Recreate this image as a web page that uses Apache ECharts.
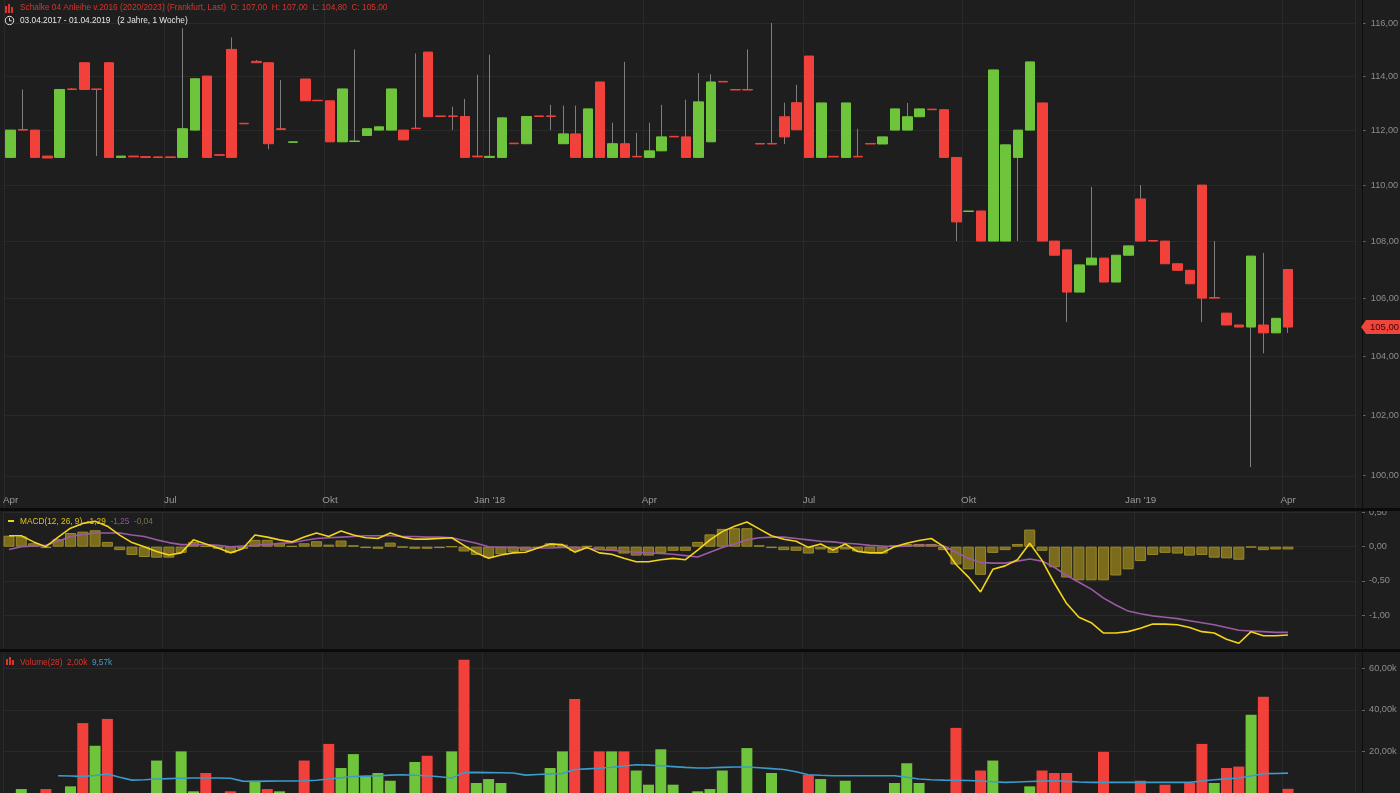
<!DOCTYPE html>
<html><head><meta charset="utf-8">
<script src="https://cdn.jsdelivr.net/npm/echarts@6/dist/echarts.min.js"></script>
<style>html,body{margin:0;padding:0;background:#1e1e1e;}#c{width:1400px;height:793px;}</style>
</head><body><div id="c"></div>
<script>
// ---------- DATA ----------
const dates = [
 '03.04.2017','10.04.2017','17.04.2017','24.04.2017','01.05.2017','08.05.2017','15.05.2017','22.05.2017','29.05.2017','05.06.2017',
 '12.06.2017','19.06.2017','26.06.2017','03.07.2017','10.07.2017','17.07.2017','24.07.2017','31.07.2017','07.08.2017','14.08.2017',
 '21.08.2017','28.08.2017','04.09.2017','11.09.2017','18.09.2017','25.09.2017','02.10.2017','09.10.2017','16.10.2017','23.10.2017',
 '30.10.2017','06.11.2017','13.11.2017','20.11.2017','27.11.2017','04.12.2017','11.12.2017','18.12.2017','25.12.2017','01.01.2018',
 '08.01.2018','15.01.2018','22.01.2018','29.01.2018','05.02.2018','12.02.2018','19.02.2018','26.02.2018','05.03.2018','12.03.2018',
 '19.03.2018','26.03.2018','02.04.2018','09.04.2018','16.04.2018','23.04.2018','30.04.2018','07.05.2018','14.05.2018','21.05.2018',
 '28.05.2018','04.06.2018','11.06.2018','18.06.2018','25.06.2018','02.07.2018','09.07.2018','16.07.2018','23.07.2018','30.07.2018',
 '06.08.2018','13.08.2018','20.08.2018','27.08.2018','03.09.2018','10.09.2018','17.09.2018','24.09.2018','01.10.2018','08.10.2018',
 '15.10.2018','22.10.2018','29.10.2018','05.11.2018','12.11.2018','19.11.2018','26.11.2018','03.12.2018','10.12.2018','17.12.2018',
 '24.12.2018','31.12.2018','07.01.2019','14.01.2019','21.01.2019','28.01.2019','04.02.2019','11.02.2019','18.02.2019','25.02.2019',
 '04.03.2019','11.03.2019','18.03.2019','25.03.2019','01.04.2019'];
const padWeeks = ['08.04.2019','15.04.2019','22.04.2019','29.04.2019','06.05.2019'];

const open = [
 111.00,112.02,112.00,111.05,111.00,113.52,114.50,113.52,114.50,111.00,
 111.05,111.03,111.02,111.02,111.00,112.00,114.00,111.10,115.00,112.25,
 114.55,114.50,112.05,111.55,113.89,113.10,113.08,111.57,111.58,111.80,
 112.00,112.00,112.00,112.07,114.90,112.52,112.52,112.50,111.05,111.00,
 111.00,111.52,111.50,112.52,112.52,111.50,111.86,111.00,113.78,111.00,
 111.50,111.04,111.00,111.24,111.77,111.75,111.00,111.57,113.80,113.50,
 113.50,111.51,111.51,112.49,113.01,114.75,111.00,111.04,111.00,111.04,
 111.51,111.49,112.00,112.00,112.49,112.77,112.75,111.00,109.05,109.07,
 108.00,108.00,111.00,112.00,113.00,108.00,107.69,106.21,107.16,107.40,
 106.56,107.50,109.50,108.02,108.00,107.20,106.97,110.00,106.02,105.48,
 105.07,105.00,105.07,104.80,107.00];
const high = [
 112.00,113.50,112.00,111.05,113.50,113.55,114.50,113.52,114.50,111.05,
 111.05,111.03,111.02,111.02,115.80,113.90,114.00,111.10,115.45,112.25,
 114.60,114.50,113.85,111.57,113.89,113.10,113.08,113.52,115.00,112.05,
 112.12,113.52,112.00,114.85,114.90,112.52,112.86,113.15,114.05,114.80,
 112.45,111.52,112.50,112.52,112.93,112.90,112.90,112.78,113.78,112.27,
 114.53,111.90,112.27,112.93,111.77,113.12,114.11,114.07,113.80,113.50,
 115.00,111.51,116.00,113.01,113.67,114.75,113.00,111.04,113.00,112.05,
 111.51,111.75,112.78,113.00,112.78,112.77,112.75,111.00,109.07,109.07,
 114.23,111.46,112.00,114.53,113.00,108.00,107.69,107.16,109.93,107.40,
 107.50,107.83,110.00,108.02,108.00,107.20,106.97,110.00,108.00,105.48,
 105.07,107.47,107.58,105.30,107.00];
const low = [
 111.00,112.00,111.00,110.98,111.00,113.48,113.50,111.05,111.00,111.00,
 111.02,111.00,111.00,111.00,110.98,112.00,111.00,111.08,111.00,112.23,
 114.50,111.30,112.02,111.55,113.08,113.08,111.57,111.57,111.58,111.80,
 112.00,112.00,111.64,112.05,112.49,112.50,112.00,111.00,111.00,111.00,
 111.00,111.50,111.50,112.50,112.00,111.50,111.00,111.00,111.00,111.00,
 111.00,111.02,111.00,111.24,111.75,111.00,111.00,111.57,113.78,113.48,
 113.48,111.49,111.49,111.49,112.01,111.00,111.00,111.02,111.00,111.02,
 111.49,111.49,112.00,112.00,112.49,112.75,111.00,108.00,109.05,108.00,
 108.00,108.00,108.00,112.00,108.00,107.50,105.17,106.21,107.16,106.56,
 106.56,107.50,108.00,108.00,107.20,106.97,106.50,105.17,106.00,105.07,
 105.00,100.29,104.10,104.80,104.80];
const close = [
 112.00,112.00,111.00,110.98,113.50,113.50,113.50,113.50,111.00,111.05,
 111.02,111.00,111.00,111.00,112.05,113.90,111.00,111.08,111.00,112.23,
 114.50,111.50,112.02,111.57,113.08,113.08,111.57,113.52,111.60,112.05,
 112.12,113.52,111.64,112.05,112.49,112.50,112.50,111.00,111.02,111.04,
 112.45,111.50,112.50,112.50,112.50,111.86,111.00,112.78,111.00,111.50,
 111.00,111.02,111.24,111.75,111.75,111.00,113.04,113.78,113.78,113.48,
 113.48,111.49,111.49,111.75,112.01,111.00,113.00,111.02,113.00,111.02,
 111.49,111.75,112.78,112.49,112.78,112.75,111.00,108.68,109.07,108.00,
 114.23,111.46,112.00,114.53,108.00,107.50,106.21,107.16,107.40,106.56,
 107.50,107.83,108.00,108.00,107.20,106.97,106.50,106.00,106.00,105.07,
 105.00,107.47,104.80,105.30,105.00];

const macd = [
 0.16,0.16,0.07,0.00,0.14,0.27,0.34,0.37,0.30,0.17,
 0.06,0.00,-0.07,-0.12,-0.09,0.10,0.04,-0.02,-0.09,-0.03,
 0.17,0.14,0.10,0.07,0.14,0.20,0.15,0.23,0.17,0.13,
 0.12,0.20,0.14,0.11,0.11,0.12,0.13,0.02,-0.09,-0.17,
 -0.12,-0.09,-0.08,-0.02,0.04,0.03,-0.08,-0.01,-0.09,-0.11,
 -0.17,-0.22,-0.22,-0.19,-0.17,-0.19,-0.05,0.10,0.22,0.30,
 0.36,0.26,0.16,0.11,0.08,-0.01,0.04,-0.05,0.04,-0.07,
 -0.09,-0.09,0.00,0.05,0.09,0.12,0.00,-0.26,-0.44,-0.66,
 -0.33,-0.28,-0.19,0.05,-0.20,-0.53,-0.83,-1.03,-1.11,-1.26,
 -1.26,-1.24,-1.19,-1.13,-1.13,-1.14,-1.18,-1.24,-1.26,-1.35,
 -1.41,-1.24,-1.30,-1.30,-1.29];
const signal = [
 -0.04,0.00,0.01,0.02,0.08,0.15,0.18,0.20,0.20,0.20,
 0.17,0.15,0.10,0.06,0.03,0.03,0.03,0.02,0.00,0.01,
 0.02,0.03,0.05,0.06,0.09,0.12,0.13,0.14,0.15,0.16,
 0.16,0.16,0.15,0.15,0.14,0.14,0.13,0.09,0.05,0.00,
 -0.01,-0.01,-0.02,-0.02,-0.02,-0.01,-0.01,-0.02,-0.04,-0.05,
 -0.07,-0.08,-0.09,-0.10,-0.11,-0.13,-0.15,-0.08,-0.01,0.04,
 0.10,0.13,0.14,0.14,0.12,0.10,0.08,0.07,0.05,0.04,
 0.02,0.01,0.00,0.01,0.02,0.02,0.01,-0.08,-0.17,-0.23,
 -0.24,-0.24,-0.21,-0.18,-0.21,-0.30,-0.42,-0.52,-0.62,-0.75,
 -0.85,-0.94,-0.98,-1.01,-1.03,-1.05,-1.08,-1.11,-1.14,-1.18,
 -1.22,-1.23,-1.24,-1.25,-1.25];
const hist = [
 0.16,0.15,0.05,-0.02,0.11,0.20,0.22,0.24,0.07,-0.05,
 -0.12,-0.15,-0.16,-0.16,-0.09,0.07,0.01,-0.03,-0.09,-0.03,
 0.10,0.10,0.05,0.01,0.05,0.08,0.03,0.09,0.02,-0.02,
 -0.03,0.06,-0.01,-0.03,-0.03,-0.02,0.00,-0.07,-0.12,-0.16,
 -0.11,-0.08,-0.06,-0.02,0.05,0.03,-0.06,0.01,-0.05,-0.06,
 -0.10,-0.13,-0.13,-0.09,-0.06,-0.06,0.07,0.18,0.26,0.27,
 0.27,0.02,-0.02,-0.05,-0.06,-0.10,-0.04,-0.09,-0.04,-0.07,
 -0.09,-0.10,0.02,0.04,0.04,0.04,-0.05,-0.26,-0.33,-0.41,
 -0.09,-0.05,0.04,0.25,-0.06,-0.30,-0.45,-0.49,-0.49,-0.49,
 -0.42,-0.33,-0.21,-0.12,-0.09,-0.10,-0.13,-0.12,-0.16,-0.17,
 -0.19,-0.01,-0.05,-0.04,-0.04];

// volume in thousands
const volume = [
 0,1.9,0,1.9,0,3.2,33.6,22.7,35.6,0,
 0,0,15.6,0,20.0,0.8,9.6,0,0.8,0,
 5.9,1.9,0.8,0,15.6,0,23.6,12.0,18.7,8.0,
 9.6,5.9,0,14.9,17.9,0,20.0,64.0,4.8,6.7,
 4.8,0,0,0,12.0,20.0,45.2,0,20.0,20.0,
 20.0,10.8,4.0,21.0,4.0,0,0.8,1.9,10.8,0,
 21.6,0,9.6,0,0,8.8,6.7,0,5.9,0,
 0,0,4.8,14.3,4.8,0,0,31.3,0,10.8,
 15.6,0,0,3.2,10.8,9.6,9.6,0,0,19.8,
 0,0,5.9,0,4.0,0,4.8,23.6,4.8,12.0,
 12.7,37.6,46.3,0,2.0];
const volumeDir = [
 1,1,1,-1,1,1,-1,1,-1,1,
 1,1,1,1,1,1,-1,1,-1,1,
 1,-1,1,1,-1,1,-1,1,1,1,
 1,1,1,1,-1,1,1,-1,1,1,
 1,1,1,1,1,1,-1,1,-1,1,
 -1,1,1,1,1,1,1,1,1,1,
 1,1,1,1,1,-1,1,1,1,1,
 1,1,1,1,1,1,1,-1,1,-1,
 1,1,1,1,-1,-1,-1,1,1,-1,
 1,1,-1,1,-1,1,-1,-1,1,-1,
 -1,1,-1,1,-1];
const volumeMA = [
 null,null,null,null,8.3,8.2,8.0,8.4,9.1,7.6,
 6.2,6.4,6.7,6.9,7.1,7.2,7.2,7.2,7.1,5.7,
 5.6,5.7,5.8,5.8,5.9,6.1,6.7,7.3,7.9,8.1,
 8.3,8.6,8.8,8.5,8.3,7.8,7.2,9.8,9.9,9.8,
 9.7,9.6,8.6,8.9,9.2,9.4,11.3,11.6,11.9,12.4,
 13.0,13.6,13.4,13.1,12.7,12.3,12.0,12.1,12.3,12.5,
 12.5,12.1,11.7,11.3,10.2,8.8,8.5,8.3,8.3,8.3,
 8.3,8.3,8.3,7.6,6.7,6.4,6.2,6.1,6.0,5.8,
 5.4,5.1,5.3,5.5,5.7,5.9,5.6,5.3,5.1,5.1,
 5.1,5.1,5.1,5.1,5.1,5.1,5.1,5.8,6.4,6.8,
 7.2,8.2,9.3,9.4,9.57];

const priceTicks = [100,102,104,106,108,110,112,114,116];
const macdTicks = [0.5,0,-0.5,-1];
const volumeTicks = [20,40,60];
const titleText = 'Schalke 04 Anleihe v.2016 (2020/2023) (Frankfurt, Last)';
const rangeText = '03.04.2017 - 01.04.2019   (2 Jahre, 1 Woche)';

// ---------- HELPERS ----------
const FONT = "'Liberation Sans','Arial',sans-serif";
const TXT = 8.3;
const fmt2 = v => { const s = v.toFixed(2).replace('.', ','); return s === '-0,00' ? '0,00' : s; };
const categories = dates.concat(padWeeks);
const monthOf = s => +s.slice(3, 5);
const isQuarterStart = categories.map((d, i) => [1,4,7,10].includes(monthOf(d)) && (i === 0 || monthOf(categories[i-1]) !== monthOf(d)));
const MONTHS = {1:'Jan', 4:'Apr', 7:'Jul', 10:'Okt'};
const quarterLabel = (val) => { const m = monthOf(val); return m === 1 ? "Jan '" + val.slice(8, 10) : MONTHS[m]; };
const n = dates.length;
const last = n - 1;

const GREEN = '#6ec43a', RED = '#f1413a', GRID = '#2a2a2a', AXIS = '#0d0d0d', LABEL = '#8c8c8c';
const BAND = 12.298, NCAT = categories.length;
const gridLeft = 2.85, gridWidth = NCAT * BAND;

const wickData = dates.map((d, i) => [low[i], high[i], low[i], high[i]]);
const bodyData = dates.map((d, i) => [open[i], close[i], Math.min(open[i], close[i]), Math.max(open[i], close[i])]);
const volData = volume.map((v, i) => ({ value: v, itemStyle: { color: volumeDir[i] > 0 ? GREEN : RED } }));

function xAx(gi, showLabel) {
  return {
    type: 'category', gridIndex: gi, data: categories, boundaryGap: true,
    axisLine: { show: false },
    axisTick: { show: false, alignWithLabel: true, interval: (i) => isQuarterStart[i] },
    axisLabel: showLabel ? { show: true, inside: true, margin: 3, color: '#9a9a9a', fontSize: 9.8, fontFamily: FONT,
      interval: (i) => isQuarterStart[i], formatter: quarterLabel } : { show: false },
    splitLine: { show: true, interval: (i) => isQuarterStart[i], lineStyle: { color: GRID, width: 1 } }
  };
}

const baseGraphic = [
    { type: 'rect', z: 100, shape: { x: 0, y: 508, width: 1400, height: 3 }, style: { fill: '#0b0b0b' } },
    { type: 'rect', z: 100, shape: { x: 0, y: 649, width: 1400, height: 3 }, style: { fill: '#0b0b0b' } },
    { type: 'rect', z: 100, shape: { x: 5, y: 6, width: 2, height: 7 }, style: { fill: '#d8352c' } },
    { type: 'rect', z: 100, shape: { x: 8, y: 4, width: 2, height: 9 }, style: { fill: '#d8352c' } },
    { type: 'rect', z: 100, shape: { x: 11, y: 7, width: 2, height: 6 }, style: { fill: '#d8352c' } },
    { type: 'text', z: 100, x: 20, y: 8, style: {
        text: titleText + '  O: ' + fmt2(open[last]) + '  H: ' + fmt2(high[last]) + '  L: ' + fmt2(low[last]) + '  C: ' + fmt2(close[last]),
        fill: '#d8352c', font: TXT + 'px ' + FONT, verticalAlign: 'middle' } },
    { type: 'circle', z: 100, shape: { cx: 9.5, cy: 20.5, r: 4.2 }, style: { fill: 'none', stroke: '#e0e0e0', lineWidth: 1 } },
    { type: 'polyline', z: 100, shape: { points: [[9.5, 17.8], [9.5, 20.8], [11.8, 20.8]] }, style: { fill: 'none', stroke: '#e0e0e0', lineWidth: 1 } },
    { type: 'text', z: 100, x: 20, y: 21, style: { text: rangeText, fill: '#e6e6e6', font: TXT + 'px ' + FONT, verticalAlign: 'middle' } },
    { type: 'rect', z: 100, shape: { x: 8, y: 520, width: 6, height: 2 }, style: { fill: '#f3d41b' } },
    { type: 'text', z: 100, x: 20, y: 521.5, style: {
        text: '{a|MACD(12, 26, 9)  ' + fmt2(macd[last]) + '}  {b|' + fmt2(signal[last]) + '}  {c|' + fmt2(hist[last]) + '}',
        font: TXT + 'px ' + FONT, verticalAlign: 'middle',
        rich: { a: { fill: '#e3c21a', font: TXT + 'px ' + FONT }, b: { fill: '#8d5a98', font: TXT + 'px ' + FONT }, c: { fill: '#7a734a', font: TXT + 'px ' + FONT } } } },
    { type: 'rect', z: 100, shape: { x: 6, y: 659, width: 2, height: 6 }, style: { fill: '#d8352c' } },
    { type: 'rect', z: 100, shape: { x: 9, y: 657, width: 2, height: 8 }, style: { fill: '#d8352c' } },
    { type: 'rect', z: 100, shape: { x: 12, y: 660, width: 2, height: 5 }, style: { fill: '#d8352c' } },
    { type: 'text', z: 100, x: 20, y: 662.5, style: {
        text: '{a|Volume(28)  ' + fmt2(volume[last]) + 'k}  {b|' + fmt2(volumeMA[last]) + 'k}',
        font: TXT + 'px ' + FONT, verticalAlign: 'middle',
        rich: { a: { fill: '#d8352c', font: TXT + 'px ' + FONT }, b: { fill: '#3b9bcb', font: TXT + 'px ' + FONT } } } }
];

const chart = echarts.init(document.getElementById('c'), null, { renderer: 'canvas' });
chart.setOption({
  backgroundColor: '#1e1e1e',
  animation: false,
  textStyle: { fontFamily: FONT },
  grid: [
    { left: gridLeft, top: 0, width: gridWidth, height: 508 },
    { left: gridLeft, top: 512, width: gridWidth, height: 136 },
    { left: gridLeft, top: 653, width: gridWidth, height: 140.3 }
  ],
  xAxis: [xAx(0, true), xAx(1, false), xAx(2, false)],
  yAxis: [
    { type: 'log', logBase: 10, gridIndex: 0, position: 'right', offset: 6.4, min: 98.955, max: 116.877,
      axisLabel: { show: false }, axisTick: { show: false }, splitLine: { show: false },
      axisLine: { show: true, lineStyle: { color: AXIS, width: 1 } } },
    { type: 'value', gridIndex: 1, position: 'right', offset: 6.4, min: -1.4788, max: 0.5066,
      axisLabel: { customValues: macdTicks, formatter: fmt2, color: LABEL, fontSize: 9.2, margin: 7 },
      axisTick: { show: true, customValues: macdTicks, length: 3, lineStyle: { color: '#666' } },
      splitLine: { show: true, lineStyle: { color: GRID } },
      axisLine: { show: true, lineStyle: { color: AXIS } } },
    { type: 'value', gridIndex: 2, position: 'right', offset: 6.4, min: 0, max: 67.29,
      axisLabel: { customValues: volumeTicks, formatter: v => fmt2(v) + 'k', color: LABEL, fontSize: 9.2, margin: 7 },
      axisTick: { show: true, customValues: volumeTicks, length: 3, lineStyle: { color: '#666' } },
      splitLine: { show: true, lineStyle: { color: GRID } },
      axisLine: { show: true, lineStyle: { color: AXIS } } }
  ],
  series: [
    { type: 'line', xAxisIndex: 0, yAxisIndex: 0, data: [], z: 1, silent: true,
      markLine: { z: 1, silent: true, symbol: ['none', 'none'], animation: false,
        lineStyle: { color: GRID, width: 1, type: 'solid' },
        label: { show: true, position: 'end', distance: 7, color: LABEL, fontSize: 9.2, fontFamily: FONT,
          formatter: p => '-  ' + fmt2(p.value) },
        emphasis: { disabled: true },
        data: priceTicks.map(v => ({ yAxis: v })) } },
    { type: 'candlestick', name: 'wick', xAxisIndex: 0, yAxisIndex: 0, data: wickData, barWidth: 0.1, z: 3, silent: true,
      itemStyle: { color: '#7e7e7e', color0: '#7e7e7e', borderColor: '#7e7e7e', borderColor0: '#7e7e7e', borderWidth: 1 } },
    { type: 'candlestick', name: 'body', xAxisIndex: 0, yAxisIndex: 0, data: bodyData, barWidth: 10, z: 4, silent: true,
      itemStyle: { color: GREEN, color0: RED, borderColor: GREEN, borderColor0: RED, borderWidth: 1 } },
    { type: 'bar', xAxisIndex: 1, yAxisIndex: 1, data: hist, barWidth: 11, silent: true,
      itemStyle: { color: '#7a6b1d', borderColor: '#9b8a2a', borderWidth: 1 } },
    { type: 'line', xAxisIndex: 1, yAxisIndex: 1, data: macd, symbol: 'none', silent: true, z: 4,
      lineStyle: { color: '#f3d41b', width: 1.6 } },
    { type: 'line', xAxisIndex: 1, yAxisIndex: 1, data: signal, symbol: 'none', silent: true, z: 3,
      lineStyle: { color: '#9b5aa5', width: 1.6 } },
    { type: 'bar', xAxisIndex: 2, yAxisIndex: 2, data: volData, barWidth: 11, silent: true },
    { type: 'line', xAxisIndex: 2, yAxisIndex: 2, data: volumeMA, symbol: 'none', silent: true, z: 4,
      lineStyle: { color: '#3b9bcb', width: 1.6 } }
  ],
  graphic: baseGraphic
});

// last-price tag on the right axis, placed through the price scale
const tagY = chart.convertToPixel({ yAxisIndex: 0 }, close[last]);
const axisX = chart.convertToPixel({ gridIndex: 0 }, [categories.length - 1, close[last]])[0] + BAND / 2 + 6.4;
chart.setOption({ graphic: baseGraphic.concat([
  { type: 'polygon', z: 110, shape: { points: [[axisX - 1, tagY], [axisX + 4, tagY - 7], [1400, tagY - 7], [1400, tagY + 7], [axisX + 4, tagY + 7]] },
    style: { fill: '#f0453b' } },
  { type: 'text', z: 111, x: axisX + 8, y: tagY + 0.5, style: { text: fmt2(close[last]), fill: '#3a0806', font: '9.5px ' + FONT, verticalAlign: 'middle' } }
]) });
</script>
</body></html>
